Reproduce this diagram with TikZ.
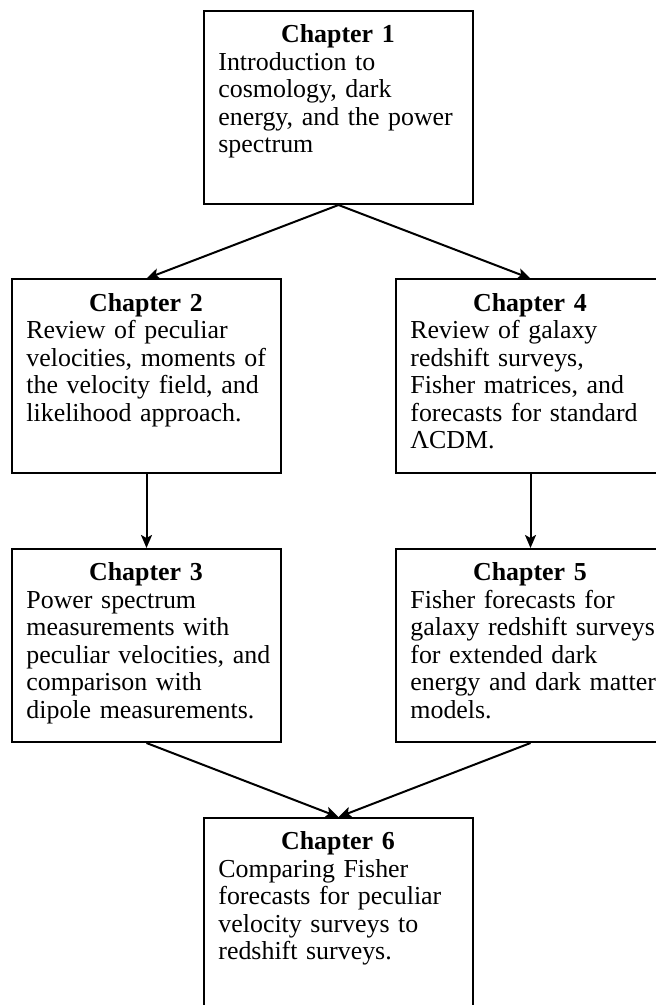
\documentclass[tikz,border=0pt]{standalone}
\usepackage{fontspec}
\setmainfont{Liberation Serif}
\usetikzlibrary{arrows.meta}

\newcommand{\chaphead}[1]{\makebox[119.5pt]{\bfseries #1}\\}

\begin{document}
\begin{tikzpicture}[x=0.5pt, y=-0.5pt,
    chapbox/.style={draw, line width=1pt, minimum width=134.5pt, minimum height=96.5pt, inner sep=0pt},
    chaptext/.style={anchor=north west, text width=150pt, align=left, inner xsep=0pt, inner ysep=7.3pt,
        font=\fontsize{12.95}{13.75}\selectfont},
    link/.style={line width=1pt, -{Stealth[length=6.5pt, width=5.5pt, inset=1.5pt]}}]
    \useasboundingbox (0,0) rectangle (656,1005);
    % Below nodes are the chapter boxes.
        \node[chapbox] (c1) at (338.5, 107.5) {};
        \node[chapbox] (c2) at (146.5, 376) {};
        \node[chapbox] (c4) at (530.5, 376) {};
        \node[chapbox] (c3) at (146.5, 645.5) {};
        \node[chapbox] (c5) at (530.5, 645.5) {};
        \node[chapbox] (c6) at (338.5, 914.5) {};
    % Below nodes are the texts.
        \node[chaptext] (t1) at ([xshift=7.5pt]c1.north west) {\chaphead{Chapter 1}Introduction to\\cosmology, dark\\energy, and the power\\spectrum};
        \node[chaptext] (t2) at ([xshift=7.5pt]c2.north west) {\chaphead{Chapter 2}Review of peculiar\\velocities, moments of\\the velocity field, and\\likelihood approach.};
        \node[chaptext] (t4) at ([xshift=7.5pt]c4.north west) {\chaphead{Chapter 4}Review of galaxy\\redshift surveys,\\Fisher matrices, and\\forecasts for standard\\ΛCDM.};
        \node[chaptext] (t3) at ([xshift=7.5pt]c3.north west) {\chaphead{Chapter 3}Power spectrum\\measurements with\\peculiar velocities, and\\comparison with\\dipole measurements.};
        \node[chaptext] (t5) at ([xshift=7.5pt]c5.north west) {\chaphead{Chapter 5}Fisher forecasts for\\galaxy redshift surveys\\for extended dark\\energy and dark matter\\models.};
        \node[chaptext] (t6) at ([xshift=7.5pt]c6.north west) {\chaphead{Chapter 6}Comparing Fisher\\forecasts for peculiar\\velocity surveys to\\redshift surveys.};
    % This draws the arrows.
        \draw[link] (c1.south) -- (c2.north);
        \draw[link] (c1.south) -- (c4.north);
        \draw[link] (c2.south) -- (c3.north);
        \draw[link] (c4.south) -- (c5.north);
        \draw[link] (c3.south) -- (c6.north);
        \draw[link] (c5.south) -- (c6.north);
    \end{tikzpicture}
\end{document}
